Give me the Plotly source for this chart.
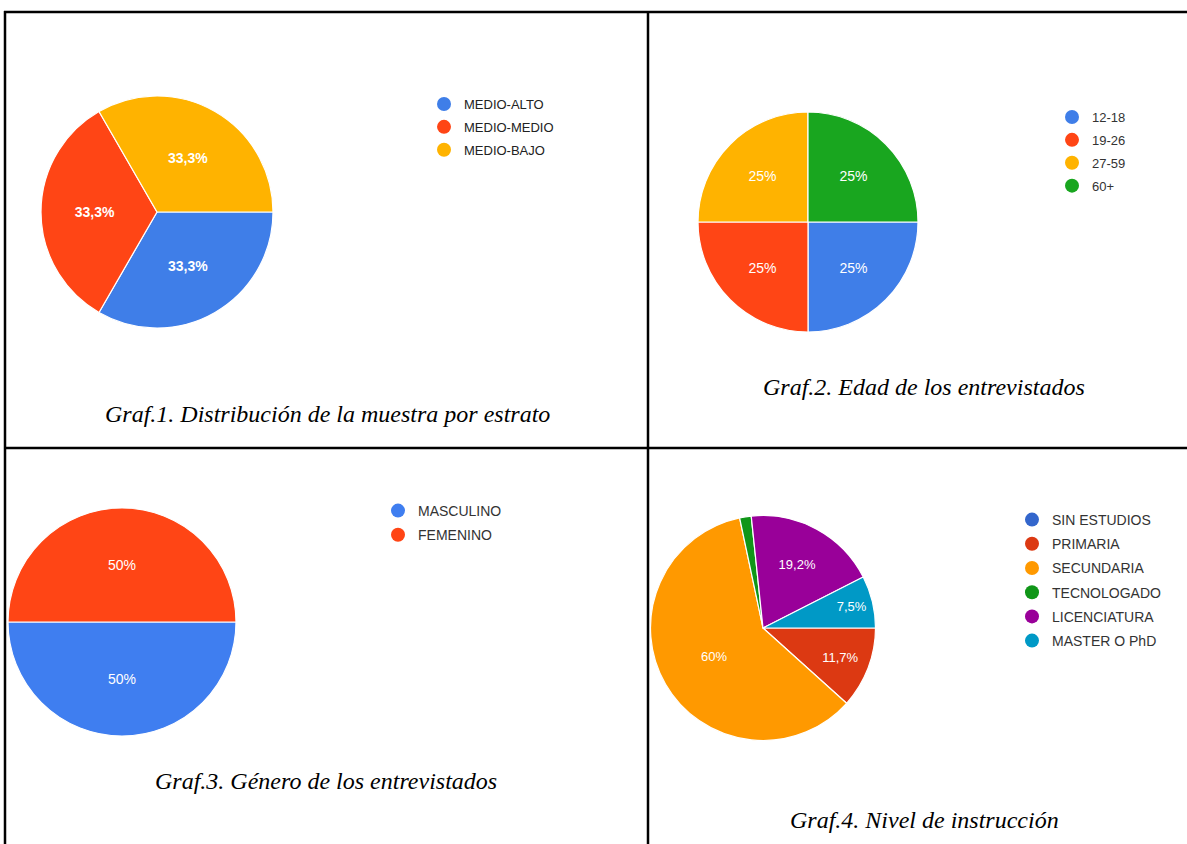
import plotly.graph_objects as go

W, H = 1187, 844

# ---------------- data ----------------
estrato_labels = ["MEDIO-ALTO", "MEDIO-MEDIO", "MEDIO-BAJO"]
estrato_values = [1, 1, 1]
estrato_colors = ["#3F7EE8", "#FF4515", "#FFB300"]

edad_labels = ["12-18", "19-26", "27-59", "60+"]
edad_values = [1, 1, 1, 1]
edad_colors = ["#3F7EE8", "#FF4515", "#FFB300", "#19A61F"]

genero_labels = ["MASCULINO", "FEMENINO"]
genero_values = [1, 1]
genero_colors = ["#3F7EF0", "#FF4515"]

nivel_labels = ["SIN ESTUDIOS", "PRIMARIA", "SECUNDARIA", "TECNOLOGADO", "LICENCIATURA", "MASTER O PhD"]
nivel_values = [0, 14, 72, 2, 23, 9]
nivel_colors = ["#3366CC", "#DC3912", "#FF9900", "#109618", "#990099", "#0099C6"]

captions = [
    "Graf.1. Distribución de la muestra por estrato",
    "Graf.2. Edad de los entrevistados",
    "Graf.3. Género de los entrevistados",
    "Graf.4. Nivel de instrucción",
]

SANS = "Liberation Sans, Arial, sans-serif"
SERIF = "Liberation Serif, Times New Roman, serif"


def pct_text(vals, min_pct=5.0):
    tot = float(sum(vals))
    out = []
    for v in vals:
        p = 100.0 * v / tot
        if p < min_pct:
            out.append("")
            continue
        s = f"{p:.1f}".rstrip("0").rstrip(".").replace(".", ",")
        out.append(s + "%")
    return out


def dom(cx, cy, d):
    return dict(x=[(cx - d / 2) / W, (cx + d / 2) / W],
                y=[1 - (cy + d / 2) / H, 1 - (cy - d / 2) / H])


fig = go.Figure()

charts = [
    (estrato_labels, estrato_values, estrato_colors, (157, 212, 232), "legend", 14, "bold"),
    (edad_labels, edad_values, edad_colors, (808, 222, 220), "legend2", 14, "normal"),
    (genero_labels, genero_values, genero_colors, (122, 622, 228), "legend3", 14, "normal"),
    (nivel_labels, nivel_values, nivel_colors, (763, 628, 225), "legend4", 13, "normal"),
]

for i, (labs, vals, cols, (cx, cy, d), lg, fs, fw) in enumerate(charts):
    fig.add_trace(go.Pie(
        labels=labs, values=vals, sort=False, direction="clockwise", rotation=90,
        marker=dict(colors=cols, line=dict(color="white", width=1.2)),
        text=pct_text(vals), textinfo="text", textposition="inside",
        insidetextorientation="horizontal",
        textfont=dict(family=SANS, size=fs, color="white", weight=fw),
        domain=dom(cx, cy, d), showlegend=False, hoverinfo="label+percent",
    ))
    for lab, col in zip(labs, cols):
        fig.add_trace(go.Scatter(
            x=[None], y=[None], mode="markers", name=lab,
            marker=dict(color=col, size=14, symbol="circle"),
            legend=lg, legendgroup=f"{lg}-{lab}", showlegend=True,
        ))

legend_common = dict(bgcolor="rgba(0,0,0,0)", xanchor="left", yanchor="top",
                     itemsizing="trace", tracegroupgap=3)

fig.update_layout(
    width=W, height=H, margin=dict(l=0, r=0, t=0, b=0),
    paper_bgcolor="white", plot_bgcolor="white",
    xaxis=dict(visible=False), yaxis=dict(visible=False),
    legend=dict(x=424 / W, y=1 - 89 / H, font=dict(family=SANS, size=13, color="#222"), **legend_common),
    legend2=dict(x=1052 / W, y=1 - 102 / H, font=dict(family=SANS, size=13, color="#333"), **legend_common),
    legend3=dict(x=378 / W, y=1 - 495 / H, font=dict(family=SANS, size=14, color="#333"), **legend_common),
    legend4=dict(x=1012 / W, y=1 - 504 / H, font=dict(family=SANS, size=14, color="#333"), **legend_common),
)

cap_pos = [(327, 414), (924, 387), (326, 781), (924, 820)]
for txt, (x, y) in zip(captions, cap_pos):
    fig.add_annotation(
        text=f"<i>{txt}</i>", x=x / W, y=1 - y / H, xref="paper", yref="paper",
        showarrow=False, xanchor="center", yanchor="middle",
        font=dict(family=SERIF, size=24, color="black"),
    )

# table borders
border = dict(color="black", width=2.5)
lines = [
    (4, 12, W, 12),
    (5, 11, 5, H),
    (648, 12, 648, H),
    (5, 448, W, 448),
]
for x0, y0, x1, y1 in lines:
    fig.add_shape(type="line", xref="paper", yref="paper",
                  x0=x0 / W, y0=1 - y0 / H, x1=x1 / W, y1=1 - y1 / H, line=border)

fig.write_html(
    "out.html",
    config={"displayModeBar": False},
    post_script="document.body.style.margin='0';document.body.style.overflow='hidden';",
)
